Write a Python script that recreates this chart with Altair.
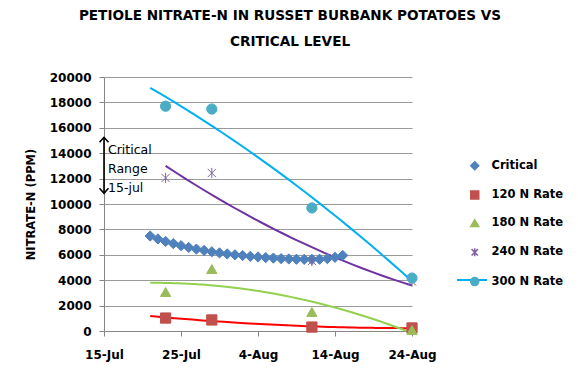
import altair as alt
import pandas as pd

# ---------------- data ----------------
series_names = ["Critical", "120 N Rate", "180 N Rate", "240 N Rate", "300 N Rate"]
marker_colors = ["#4F81BD", "#C0504D", "#9BBB59", "#8064A2", "#4BACC6"]

critical_start = "2010-07-21"
critical_end = "2010-08-15"
critical_values = [7480, 7250, 7050, 6880, 6720, 6580, 6450, 6340, 6240, 6150,
                   6070, 6000, 5940, 5880, 5830, 5780, 5740, 5700, 5670, 5650,
                   5640, 5640, 5650, 5700, 5800, 5950]

sample_dates = ["2010-07-23", "2010-07-29", "2010-08-11", "2010-08-24"]
rate_120 = [1020, 870, 310, 240]
rate_180 = [3070, 4880, 1500, 80]
rate_240 = [12050, 12440, 5510, 3900]
rate_300 = [17700, 17480, 9690, 4170]

trend_series = ["120 N Rate", "180 N Rate", "240 N Rate", "300 N Rate"]
trend_colors = ["#FF0000", "#92D050", "#7030A0", "#00B0F0"]
trend_starts = ["2010-07-21", "2010-07-21", "2010-07-23", "2010-07-21"]
trend_end = "2010-08-24"

axis_start = "2010-07-15"
axis_end = "2010-08-24"
x_tick_dates = ["2010-07-15", "2010-07-25", "2010-08-04", "2010-08-14", "2010-08-24"]
y_ticks = [0, 2000, 4000, 6000, 8000, 10000, 12000, 14000, 16000, 18000, 20000]

range_label = ["Critical", "Range", "15-jul"]
range_date = "2010-07-15"
range_low = 10850
range_high = 15250

title_lines = ["PETIOLE NITRATE-N IN RUSSET BURBANK POTATOES VS", "CRITICAL LEVEL"]
y_title = "NITRATE-N (PPM)"

# ---------------- tables ----------------
origin = pd.Timestamp(axis_start)


def day(d):
    return int((pd.Timestamp(d) - origin).days)


rows = []
for d, v in zip(pd.date_range(critical_start, critical_end, freq="D"), critical_values):
    rows.append({"series": "Critical", "day": day(d), "value": v})
for name, vals in zip(trend_series, [rate_120, rate_180, rate_240, rate_300]):
    for d, v in zip(sample_dates, vals):
        rows.append({"series": name, "day": day(d), "value": v})
df = pd.DataFrame(rows)

df_range = pd.DataFrame({
    "day": [day(range_date)],
    "value": [range_low],
    "value2": [range_high],
    "mid": [(range_low + range_high) / 2],
})

FONT = "DejaVu Sans"

x_scale = alt.Scale(domain=[day(axis_start), day(axis_end)], nice=False, zero=False)
y_scale = alt.Scale(domain=[y_ticks[0], y_ticks[-1]], nice=False)

x_axis = alt.Axis(
    title=None, values=[day(d) for d in x_tick_dates],
    labelExpr="timeFormat(datetime(2010, 6, 15 + datum.value), '%-d-%b')",
    labelFont=FONT, labelFontSize=12, labelFontWeight="bold", labelColor="#000000",
    tickSize=5, tickColor="#868686", domainColor="#868686", labelPadding=13,
    grid=False, labelFlush=False,
)
y_axis = alt.Axis(
    title=y_title, values=y_ticks, format="d",
    labelFont=FONT, labelFontSize=12, labelFontWeight="bold", labelColor="#000000",
    tickSize=5, tickColor="#868686", domainColor="#868686", labelPadding=8,
    grid=True, gridColor="#9a9a9a", gridWidth=1,
    titleFont=FONT, titleFontSize=11.5, titleFontWeight="bold", titleColor="#000000",
    titleAngle=270, titleX=-73, titleY=127, titleAlign="center", titleBaseline="middle",
)

x_enc = alt.X("day:Q", scale=x_scale, axis=x_axis)
y_enc = alt.Y("value:Q", scale=y_scale, axis=y_axis)

# ---------------- trend lines (quadratic fits) ----------------
trend_layers = []
for name, col, start in zip(trend_series, trend_colors, trend_starts):
    trend_layers.append(
        alt.Chart(df)
        .transform_filter(alt.datum.series == name)
        .transform_regression("day", "value", method="poly", order=2,
                              extent=[day(start), day(trend_end)])
        .mark_line(color=col, strokeWidth=2)
        .encode(x=x_enc, y=y_enc)
    )

# ---------------- markers + legend ----------------
star_path = "M-0.8,-0.8L0.8,0.8M-0.8,0.8L0.8,-0.8M0,-1L0,1"
shape_range = ["diamond", "square", "triangle-up", star_path, "circle"]

legend = alt.Legend(
    title=None, orient="none", legendX=365, legendY=83, direction="vertical",
    symbolSize=64, labelFont=FONT, labelFontSize=11.5, labelFontWeight="bold",
    labelColor="#000000", rowPadding=14.2, labelOffset=11, padding=0,
    symbolStrokeWidth=1.5,
)

points = alt.Chart(df).mark_point(filled=True, size=105, strokeWidth=1, opacity=1).encode(
    x=x_enc,
    y=y_enc,
    fill=alt.Fill("series:N", scale=alt.Scale(domain=series_names, range=marker_colors), legend=legend),
    stroke=alt.Stroke("series:N", scale=alt.Scale(domain=series_names, range=marker_colors), legend=legend),
    shape=alt.Shape("series:N", scale=alt.Scale(domain=series_names, range=shape_range), legend=legend),
)

# line segment behind the "300 N Rate" legend symbol (legend decoration)
legend_line = alt.Chart(df_range).mark_rule(color="#00B0F0", strokeWidth=2).encode(
    x=alt.value(353), x2=alt.value(383), y=alt.value(203)
)

# ---------------- critical range annotation ----------------
arrow_line = alt.Chart(df_range).mark_rule(color="#000000", strokeWidth=1.6).encode(
    x=x_enc, y=y_enc, y2=alt.Y2("value2:Q")
)
arrow_up = alt.Chart(df_range).mark_point(
    shape="M-1,1.1L0,0L1,1.1", size=81, filled=False, stroke="#000000", strokeWidth=1.6, opacity=1
).encode(x=x_enc, y=alt.Y("value2:Q", scale=y_scale, axis=y_axis))
arrow_down = alt.Chart(df_range).mark_point(
    shape="M-1,-1.1L0,0L1,-1.1", size=81, filled=False, stroke="#000000", strokeWidth=1.6, opacity=1
).encode(x=x_enc, y=y_enc)
range_text = alt.Chart(df_range).mark_text(
    align="left", baseline="middle", font=FONT, fontSize=12.5, lineHeight=19,
    dx=4, dy=-15, color="#000000"
).encode(x=x_enc, y=alt.Y("mid:Q", scale=y_scale, axis=y_axis), text=alt.value(range_label))

chart = alt.layer(*trend_layers, points, legend_line, arrow_line, arrow_up, arrow_down, range_text).properties(
    width=308,
    height=254,
    autosize=alt.AutoSizeParams(type="none"),
    padding={"left": 96, "top": 69, "right": 154, "bottom": 40},
    background="#ffffff",
    title=alt.TitleParams(
        text=title_lines, font=FONT, fontSize=13.6, fontWeight="bold", color="#000000",
        anchor="middle", dx=32, offset=22, lineHeight=26,
    ),
).configure_view(stroke=None)

chart.save("out.html", embed_options={"renderer": "svg", "actions": False})
